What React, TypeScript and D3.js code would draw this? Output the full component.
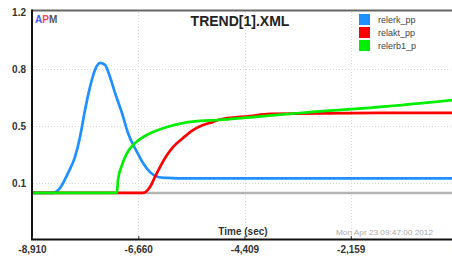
import React, { useEffect, useRef } from "react";
import * as d3 from "d3";

type Pt = [number, number];

const seriesNames = ["relerk_pp", "relakt_pp", "relerb1_p"];
const seriesColors = ["#1e90ff", "#ff0000", "#00ee00"];

// [time (sec), value]
const relerkPp: Pt[] = [
  [-8910, 0.089], [-8465, 0.089], [-8381, 0.1], [-8317, 0.119], [-8148, 0.211],
  [-7999, 0.31], [-7893, 0.432], [-7787, 0.598], [-7682, 0.739], [-7576, 0.844],
  [-7470, 0.887], [-7364, 0.875], [-7258, 0.801], [-7152, 0.703], [-7004, 0.58],
  [-6877, 0.457], [-6686, 0.34], [-6559, 0.273], [-6411, 0.217], [-6241, 0.187],
  [-6051, 0.181], [-5818, 0.178], [92, 0.178],
];
const relaktPp: Pt[] = [
  [-8910, 0.089], [-6559, 0.089], [-6411, 0.125], [-6305, 0.187], [-6199, 0.248],
  [-6051, 0.322], [-5924, 0.371], [-5712, 0.426], [-5500, 0.475], [-5288, 0.506],
  [-5076, 0.525], [-4971, 0.537], [-4293, 0.561], [-3869, 0.574], [-1539, 0.58],
  [92, 0.58],
];
const relerb1P: Pt[] = [
  [-8910, 0.089], [-7110, 0.089], [-7089, 0.168], [-7004, 0.26], [-6898, 0.334],
  [-6771, 0.383], [-6559, 0.432], [-6347, 0.463], [-6051, 0.494], [-5712, 0.518],
  [-5352, 0.531], [-4971, 0.537], [-4293, 0.553], [-3234, 0.58], [-1539, 0.617],
  [92, 0.662],
];
const baseline: Pt[] = [[-8910, 0.089], [92, 0.089]];

const xTicks = [-8910, -6659.5, -4409, -2158.5, 92];
const xTickLabels = ["-8,910", "-6,660", "-4,409", "-2,159", "92"];
const yTicks = [1.2, 0.85, 0.5, 0.15];
const yTickLabels = ["1.2", "0.8", "0.5", "0.1"];

const FONT = "'Liberation Sans', Arial, sans-serif";

const TrendChart: React.FC = () => {
  const ref = useRef<SVGSVGElement>(null);

  useEffect(() => {
    if (!ref.current) return;
    const svg = d3.select(ref.current);
    svg.selectAll("*").remove();

    const x = d3.scaleLinear().domain([-8910, 92]).range([32, 457]);
    const y = d3.scaleLinear().domain([-0.2, 1.2]).range([240, 12]);

    svg.append("rect").attr("width", 452).attr("height", 257).attr("fill", "#fff");

    // grid
    svg.selectAll(".hgrid")
      .data(yTicks.slice(1))
      .enter()
      .append("line")
      .attr("x1", 33).attr("x2", 452)
      .attr("y1", (d) => Math.round(y(d)) + 0.5).attr("y2", (d) => Math.round(y(d)) + 0.5)
      .attr("stroke", "#d8d8d8").attr("stroke-dasharray", "1,2");
    svg.selectAll(".vgrid")
      .data(xTicks.slice(1, 4))
      .enter()
      .append("line")
      .attr("x1", (d) => Math.round(x(d)) + 0.5).attr("x2", (d) => Math.round(x(d)) + 0.5)
      .attr("y1", 12).attr("y2", 238)
      .attr("stroke", "#d8d8d8").attr("stroke-dasharray", "1,2");

    // lines
    const line = d3.line<Pt>()
      .x((d) => x(d[0]))
      .y((d) => y(d[1]))
      .curve(d3.curveMonotoneX);

    svg.append("path").attr("d", line(baseline)).attr("fill", "none")
      .attr("stroke", "#b4b4b4").attr("stroke-width", 2.5);

    [relerkPp, relaktPp, relerb1P].forEach((s, i) => {
      svg.append("path").attr("d", line(s)).attr("fill", "none")
        .attr("stroke", seriesColors[i]).attr("stroke-width", 2.7)
        .attr("stroke-linejoin", "round");
    });

    // frame
    svg.append("line").attr("x1", 32).attr("x2", 452).attr("y1", 10.5).attr("y2", 10.5)
      .attr("stroke", "#666").attr("stroke-width", 2);
    svg.append("line").attr("x1", 32).attr("x2", 32).attr("y1", 9.5).attr("y2", 240)
      .attr("stroke", "#111").attr("stroke-width", 2);

    // x axis
    const xAxis = svg.append("g")
      .attr("transform", "translate(0,239)")
      .call(
        d3.axisBottom(x)
          .tickValues(xTicks)
          .tickFormat((_, i) => xTickLabels[i])
          .tickSizeInner(-3)
          .tickSizeOuter(0)
          .tickPadding(7)
      );
    xAxis.select(".domain").remove();
    xAxis.selectAll("line").attr("stroke", "#333");
    xAxis.selectAll("text")
      .style("font-family", FONT).style("font-size", "10px")
      .style("font-weight", "bold").style("fill", "#333");
    svg.append("line").attr("x1", 31).attr("x2", 452).attr("y1", 239.5).attr("y2", 239.5)
      .attr("stroke", "#111").attr("stroke-width", 2);

    // y tick labels
    svg.selectAll(".ylab")
      .data(yTicks)
      .enter()
      .append("text")
      .attr("x", 26)
      .attr("y", (d) => y(d))
      .attr("dy", "0.35em")
      .attr("text-anchor", "end")
      .style("font-family", FONT).style("font-size", "10px")
      .style("font-weight", "bold").style("fill", "#333")
      .text((_, i) => yTickLabels[i]);

    // titles
    svg.append("text").attr("x", 240).attr("y", 26).attr("text-anchor", "middle")
      .style("font-family", FONT).style("font-size", "14px")
      .style("font-weight", "bold").style("fill", "#222")
      .text("TREND[1].XML");

    const apm = svg.append("text").attr("x", 35).attr("y", 23)
      .style("font-family", FONT).style("font-size", "10px").style("font-weight", "bold");
    apm.append("tspan").attr("fill", "#4455ff").text("A");
    apm.append("tspan").attr("fill", "#ff4455").text("P");
    apm.append("tspan").attr("fill", "#555").text("M");

    svg.append("text").attr("x", 243).attr("y", 235).attr("text-anchor", "middle")
      .style("font-family", FONT).style("font-size", "10px")
      .style("font-weight", "bold").style("fill", "#333")
      .text("Time (sec)");

    svg.append("text").attr("x", 336).attr("y", 235)
      .attr("textLength", 97).attr("lengthAdjust", "spacingAndGlyphs")
      .style("font-family", FONT).style("font-size", "8px").style("fill", "#aaa")
      .text("Mon Apr 23 09:47:00 2012");

    // legend
    const legend = svg.append("g").attr("transform", "translate(359,14)");
    seriesNames.forEach((name, i) => {
      legend.append("rect").attr("x", 0).attr("y", i * 13).attr("width", 11).attr("height", 11)
        .attr("fill", seriesColors[i]);
      legend.append("text").attr("x", 19).attr("y", i * 13 + 9)
        .style("font-family", FONT).style("font-size", "9px").style("fill", "#444")
        .text(name);
    });
  }, []);

  return <svg ref={ref} width={452} height={257} style={{ display: "block" }} />;
};

export default function App() {
  return (
    <div style={{ position: "fixed", left: 0, top: 0, width: 452, height: 257, overflow: "hidden" }}>
      <TrendChart />
    </div>
  );
}
